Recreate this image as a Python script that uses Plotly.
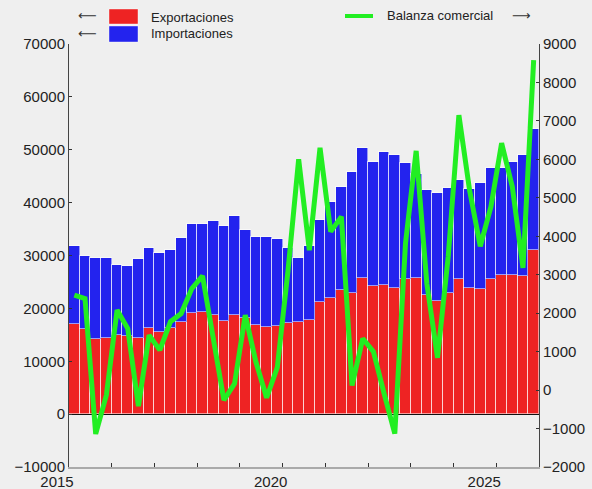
import plotly.graph_objects as go

# ---- data (quarterly, 2015T1 .. 2025T4) ----
start_year = 2015
n_quarters = 44
quarter_labels = [f"{start_year + i // 4}T{i % 4 + 1}" for i in range(n_quarters)]

exportaciones = [17000, 16070, 14180, 14400, 14930, 14690, 14370, 16200, 15560, 16260,
                 17500, 19090, 19250, 18840, 17520, 18710, 18120, 16880, 16570, 16660,
                 17170, 17480, 17750, 21230, 21930, 23500, 22870, 25710, 24140, 24510,
                 23820, 25520, 25710, 22500, 21420, 22930, 25520, 23820, 23690, 25520,
                 26340, 26340, 26210, 31000]

importaciones = [14800, 13830, 15420, 15100, 13270, 13310, 14930, 15180, 14870, 14870,
                 15750, 16810, 16650, 17760, 17980, 18840, 16660, 16580, 17020, 16420,
                 14180, 12120, 14000, 15500, 18270, 19410, 22940, 24640, 23560, 25020,
                 25200, 21930, 19660, 19840, 20480, 19850, 18710, 18840, 20040, 21110,
                 20290, 21420, 22810, 22870]

balanza = [2470, 2380, -1140, -130, 2080, 1600, -420, 1430, 1040, 1780,
           1990, 2640, 2970, 1400, -260, 170, 1950, 730, -200, 590,
           3100, 6000, 3640, 6300, 4120, 4510, 120, 1340, 1000, -90,
           -1130, 3810, 6220, 2770, 840, 3470, 7150, 5200, 3740, 4770,
           6420, 5290, 3180, 8580]

year_ticks = list(range(2015, 2027))
year_text = ["2015", "", "", "", "", "2020", "", "", "", "", "2025", ""]

# quarter mid-points in decimal years
xq = [int(q[:4]) + (int(q[-1]) - 0.5) / 4 for q in quarter_labels]

RED = "#ee2323"
BLUE = "#2323ee"
GREEN = "#22ee22"
BG = "#efefef"
FONT = "Liberation Sans, Arial, sans-serif"

W, H = 592, 489
L, R, T, B = 69, 53, 44, 22
PW, PH = W - L - R, H - T - B


def px(x):
    return (x - L) / PW


def py(y):
    return (H - B - y) / PH


fig = go.Figure()
fig.add_trace(go.Bar(x=xq, y=exportaciones, width=0.25, name="Exportaciones",
                     marker=dict(color=RED, line=dict(color="rgba(255,255,255,0.55)", width=1))))
fig.add_trace(go.Bar(x=xq, y=importaciones, width=0.25, name="Importaciones",
                     marker=dict(color=BLUE, line=dict(color="rgba(255,255,255,0.55)", width=1))))
fig.add_trace(go.Scatter(x=xq, y=balanza, yaxis="y2", mode="lines", name="Balanza comercial",
                         line=dict(color=GREEN, width=5)))

shapes = [
    dict(type="rect", xref="paper", yref="paper", x0=px(109), x1=px(138), y0=py(24), y1=py(9),
         fillcolor=RED, line=dict(color="rgba(255,255,255,0.4)", width=1)),
    dict(type="rect", xref="paper", yref="paper", x0=px(109), x1=px(138), y0=py(42), y1=py(26),
         fillcolor=BLUE, line=dict(color="rgba(255,255,255,0.4)", width=1)),
    dict(type="line", xref="paper", yref="paper", x0=px(345), x1=px(373), y0=py(16), y1=py(16),
         line=dict(color=GREEN, width=4)),
]

ann_font = dict(family=FONT, size=13, color="#222")
arrow_font = dict(family="DejaVu Sans", size=13, color="#333")
annotations = [
    dict(text="Exportaciones", x=px(149), y=py(17), xref="paper", yref="paper",
         xanchor="left", yanchor="middle", showarrow=False, font=ann_font),
    dict(text="Importaciones", x=px(149), y=py(34), xref="paper", yref="paper",
         xanchor="left", yanchor="middle", showarrow=False, font=ann_font),
    dict(text="Balanza comercial", x=px(385), y=py(16), xref="paper", yref="paper",
         xanchor="left", yanchor="middle", showarrow=False, font=ann_font),
    dict(text="⟵", x=px(87), y=py(15.5), xref="paper", yref="paper", borderpad=0,
         xanchor="center", yanchor="middle", showarrow=False, font=arrow_font),
    dict(text="⟵", x=px(87), y=py(33.5), xref="paper", yref="paper", borderpad=0,
         xanchor="center", yanchor="middle", showarrow=False, font=arrow_font),
    dict(text="⟶", x=px(521), y=py(16), xref="paper", yref="paper", borderpad=0,
         xanchor="center", yanchor="middle", showarrow=False, font=arrow_font),
]

tickfont = dict(family=FONT, size=15, color="#222")

fig.update_layout(
    width=W, height=H, autosize=False,
    margin=dict(l=L, r=R, t=T, b=B, pad=0),
    paper_bgcolor=BG, plot_bgcolor=BG,
    barmode="stack", bargap=0,
    showlegend=False,
    shapes=shapes, annotations=annotations,
    xaxis=dict(range=[2015, 2026], tickmode="array", tickvals=year_ticks, ticktext=year_text,
               ticks="inside", ticklen=4, tickcolor="#333", showline=True, linecolor="#aaaaaa",
               linewidth=2, showgrid=False, zeroline=False, tickfont=tickfont,
               ticklabelshift=-12, automargin=False),
    yaxis=dict(range=[-10000, 70000], dtick=10000, tick0=0, tickformat="d", ticks="inside",
               ticklen=3, tickcolor="#333", showline=True, linecolor="#444", linewidth=1,
               showgrid=False, zeroline=True, zerolinecolor="#111", zerolinewidth=1,
               tickfont=tickfont, automargin=False),
    yaxis2=dict(range=[-2000, 9000], dtick=1000, tick0=0, tickformat="d", ticks="inside",
                ticklen=3, tickcolor="#333", showline=True, linecolor="#444", linewidth=1,
                showgrid=False, zeroline=False, overlaying="y", side="right",
                tickfont=tickfont, automargin=False),
)

fig.write_html("out.html",
               config={"responsive": False, "displayModeBar": False},
               post_script="document.body.style.margin='0';document.body.style.background='#efefef';")
